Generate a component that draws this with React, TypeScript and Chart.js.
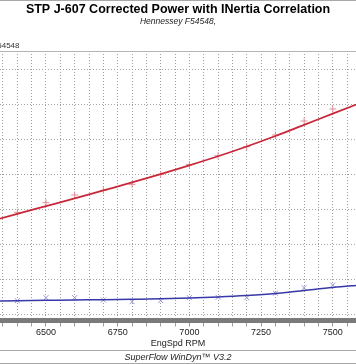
import React, { useEffect, useRef } from "react";
import { Chart, registerables } from "chart.js";

Chart.register(...registerables);

const chartTitle = "STP J-607 Corrected Power with INertia Correlation";
const chartSubtitle = "Hennessey F54548,";
const runLabel = "Hennessey F54548";
const footerText = "SuperFlow WinDyn\u2122 V3.2";
const xAxisTitle = "EngSpd RPM";

// observed points (every 100 rpm)
const rpm = [6400, 6500, 6600, 6700, 6800, 6900, 7000, 7100, 7200, 7300, 7400, 7500];
const powerObs = [245.7, 259.5, 270.5, 277, 285.8, 300.1, 314.2, 326.8, 339.7, 356.5, 376.5, 393.7];
const lowObs = [119.1, 123.4, 123.4, 120.1, 117.6, 119.1, 123.4, 123.9, 123.4, 129.7, 137.7, 141.5];

// fitted curves
const fitRpm = [6300, 6400, 6500, 6600, 6700, 6800, 6900, 7000, 7100, 7200, 7300, 7400, 7500, 7600];
const powerFit = [232, 243.5, 254.5, 265.5, 277, 288.5, 300.5, 313, 326, 340, 355, 371, 387, 403];
const lowFit = [118.6, 119.1, 119.6, 120.1, 120.5, 121.1, 121.8, 122.9, 124.4, 126.5, 129.4, 133.7, 138, 141.5];

// axis
const xMin = 6339.6;
const xMax = 7581;
const xGridStep = 50;
const xGridFirst = 6350;
const xGridLast = 7550;
const xLabeled = [6500, 6750, 7000, 7250, 7500];
const yMin = 90.7;
const yMax = 476.8;
const yGrid = [100, 150, 200, 250, 300, 350, 400, 450];

const FONT = "Arial, 'Liberation Sans', sans-serif";
const SHIFT = 5; // chart.js keeps a 5px side gap; the canvas is shifted to hide it

export default function App() {
  const ref = useRef<HTMLCanvasElement | null>(null);

  useEffect(() => {
    if (!ref.current) return;
    const xGrid: number[] = [];
    for (let v = xGridFirst; v <= xGridLast; v += xGridStep) xGrid.push(v);

    const decor = {
      id: "decor",
      afterDraw(chart: any) {
        const ctx = chart.ctx as CanvasRenderingContext2D;
        const area = chart.chartArea;
        const w = chart.width;
        ctx.save();
        ctx.strokeStyle = "#b4b4b4";
        ctx.lineWidth = 1;
        ctx.beginPath();
        ctx.moveTo(0, Math.round(area.top) + 0.5);
        ctx.lineTo(w, Math.round(area.top) + 0.5);
        ctx.stroke();
        ctx.strokeStyle = "#a8a8a8";
        ctx.beginPath();
        ctx.moveTo(0, 0.5);
        ctx.lineTo(w, 0.5);
        ctx.moveTo(0, 350.5);
        ctx.lineTo(w, 350.5);
        ctx.moveTo(0, 363.5);
        ctx.lineTo(w, 363.5);
        ctx.stroke();
        ctx.fillStyle = "#333";
        ctx.font = `8px ${FONT}`;
        ctx.textAlign = "right";
        ctx.textBaseline = "middle";
        ctx.fillText(runLabel, area.left + 19.5, 45.5);
        ctx.font = `italic 9px ${FONT}`;
        ctx.textAlign = "center";
        ctx.fillStyle = "#222";
        ctx.fillText(footerText, w / 2, 357);
        ctx.restore();
      },
    };

    const chart = new Chart(ref.current, {
      type: "scatter",
      data: {
        datasets: [
          {
            data: fitRpm.map((x, i) => ({ x, y: powerFit[i] })),
            showLine: true,
            borderColor: "#c9283a",
            borderWidth: 1.8,
            pointRadius: 0,
            cubicInterpolationMode: "monotone",
          },
          {
            data: rpm.map((x, i) => ({ x, y: powerObs[i] })),
            showLine: false,
            pointStyle: "cross",
            pointRadius: 3.5,
            borderColor: "#e39098",
            backgroundColor: "#e39098",
            pointBorderWidth: 1,
          },
          {
            data: fitRpm.map((x, i) => ({ x, y: lowFit[i] })),
            showLine: true,
            borderColor: "#3838a8",
            borderWidth: 1.5,
            pointRadius: 0,
            cubicInterpolationMode: "monotone",
          },
          {
            data: rpm.map((x, i) => ({ x, y: lowObs[i] })),
            showLine: false,
            pointStyle: "crossRot",
            pointRadius: 3.5,
            borderColor: "#9494d8",
            backgroundColor: "#9494d8",
            pointBorderWidth: 1,
          },
        ],
      },
      options: {
        animation: false,
        responsive: false,
        layout: { padding: { left: 0, right: 0, top: 0, bottom: 15.5 } },
        plugins: {
          legend: { display: false },
          tooltip: { enabled: false },
          title: {
            display: true,
            text: chartTitle,
            color: "#000",
            font: { family: FONT, size: 12.5, weight: "bold", lineHeight: "15px" },
            padding: { top: 2, bottom: 0 },
          },
          subtitle: {
            display: true,
            text: chartSubtitle,
            color: "#222",
            font: { family: FONT, size: 8.5, style: "italic", lineHeight: "10px" },
            padding: { top: 0, bottom: 24 },
          },
        },
        scales: {
          x: {
            type: "linear",
            min: xMin,
            max: xMax,
            afterBuildTicks: (s: any) => {
              s.ticks = xGrid.map((v) => ({ value: v }));
            },
            ticks: {
              autoSkip: false,
              maxRotation: 0,
              padding: 2,
              color: "#222",
              font: { family: FONT, size: 9, lineHeight: 1 },
              callback: (v: any) => (xLabeled.includes(Number(v)) ? String(v) : ""),
            },
            grid: {
              color: "#9c9c9c",
              lineWidth: 1,
              tickLength: 6,
              tickColor: "#9c9c9c",
            },
            border: { display: true, color: "#7a7a7a", width: 5, dash: [1, 2] },
            title: {
              display: true,
              text: xAxisTitle,
              color: "#222",
              font: { family: FONT, size: 9, lineHeight: 1 },
              padding: { top: 0, bottom: 0 },
            },
          },
          y: {
            type: "linear",
            min: yMin,
            max: yMax,
            afterBuildTicks: (s: any) => {
              s.ticks = yGrid.map((v) => ({ value: v }));
            },
            afterFit: (s: any) => {
              s.width = 0;
            },
            ticks: { display: false },
            grid: { color: "#a4a4a4", lineWidth: 1, drawTicks: false },
            border: { display: false, dash: [1, 2] },
          },
        },
      },
      plugins: [decor],
    });
    return () => chart.destroy();
  }, []);

  return (
    <div style={{ position: "fixed", left: 0, top: 0, width: 356, height: 364, overflow: "hidden", background: "#fff" }}>
      <canvas
        ref={ref}
        width={356 + 2 * SHIFT}
        height={364}
        style={{ display: "block", position: "absolute", left: -SHIFT, top: 0 }}
      />
    </div>
  );
}
